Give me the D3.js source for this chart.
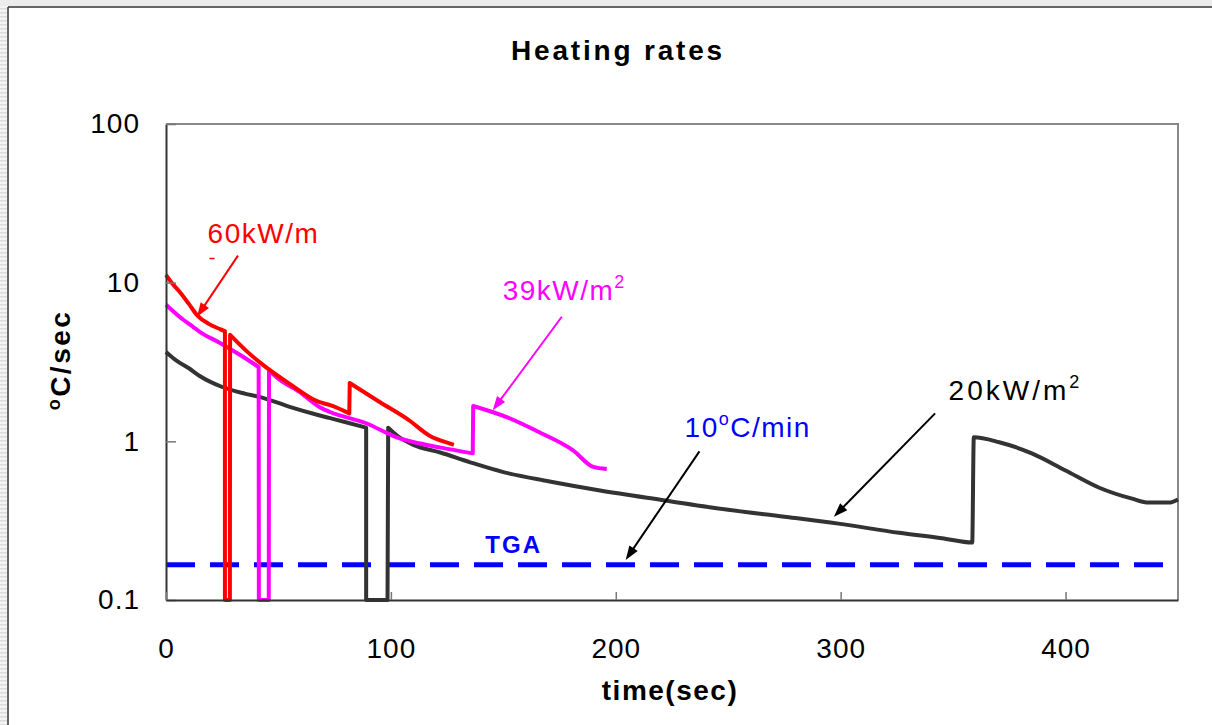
<!DOCTYPE html>
<html>
<head>
<meta charset="utf-8">
<title>Heating rates</title>
<style>
body { margin: 0; background: #fff; }
text { font-family: Arial, "Liberation Sans", sans-serif; }
.tick text { font-size: 28px; fill: #000; }
</style>
</head>
<body>
<script src="https://cdn.jsdelivr.net/npm/d3@7"></script>
<script>

// heating rate (degC/sec) against time (sec)
var series20 = [[0,3.66],[5,3.2],[10,2.9],[15,2.58],[25,2.2],[35,2.0],[42,1.9],[55,1.65],[68,1.46],[73,1.4],[80,1.32],
  [89,1.22],[89,0.1],[98.5,0.1],[98.8,1.22],[103,1.08],[110,0.95],[122,0.85],[135,0.74],[150,0.64],[170,0.56],
  [193,0.49],[222,0.424],[250,0.37],[275,0.335],[299,0.303],[326,0.265],[345,0.245],[358.5,0.23],[359.2,1.06],
  [370.5,0.987],[385,0.84],[400,0.655],[415,0.51],[429.6,0.435],[437,0.411],[446,0.411],[450,0.43]];

var series39 = [[0,7.26],[6,6.1],[12,5.27],[15,4.9],[24,4.17],[33,3.5],[41.2,2.94],[41.3,0.1],[45.7,0.1],[45.8,2.81],
  [49,2.54],[59.5,2.04],[68.4,1.64],[73,1.53],[89,1.3],[102.6,1.06],[110,0.99],[121.7,0.916],[136.4,0.84],
  [136.6,1.67],[151.5,1.42],[166,1.14],[181,0.877],[190,0.69],[196,0.67]];

var series60 = [[0,11.2],[3,9.8],[6.2,8.7],[10,7.4],[14,6.2],[19,5.5],[24,5.1],[26.2,4.95],[26.2,0.1],[28.4,0.1],
  [28.5,4.69],[35,3.8],[42,3.12],[55,2.3],[68,1.77],[73,1.69],[81.5,1.5],[81.7,2.33],[95,1.77],[108,1.36],
  [117,1.09],[126,0.97],[128,0.95]];

var tgaRate = 10 / 60;   // 10 degC/min

var xTicks = [0, 100, 200, 300, 400];
var yTicks = [0.1, 1, 10, 100];

var width = 1212, height = 725;

var svg = d3.select("body").append("svg")
    .attr("width", width)
    .attr("height", height);

// outer frame, hatched strip on the left like the source scan
var hatch = svg.append("defs").append("pattern")
    .attr("id", "hatch").attr("patternUnits", "userSpaceOnUse")
    .attr("width", 8).attr("height", 4);
hatch.append("rect").attr("width", 8).attr("height", 4).attr("fill", "#f4f4f4");
hatch.append("rect").attr("width", 8).attr("height", 1.5).attr("fill", "#dcdcdc");
svg.append("rect").attr("x", 0).attr("y", 0).attr("width", 7).attr("height", height).attr("fill", "url(#hatch)");
svg.append("rect").attr("x", 0).attr("y", 0).attr("width", width).attr("height", 6).attr("fill", "#ececec");
svg.append("line").attr("x1", 8).attr("x2", width).attr("y1", 7).attr("y2", 7)
    .attr("stroke", "#333").attr("stroke-width", 1.5);
svg.append("line").attr("x1", 8).attr("x2", 8).attr("y1", 7).attr("y2", height)
    .attr("stroke", "#333").attr("stroke-width", 1.5);

var x = d3.scaleLinear().domain([0, 450]).range([166, 1178]);
var y = d3.scaleLog().domain([0.1, 100]).range([600, 124]);

// plot box (top/right grey)
svg.append("path")
    .attr("d", "M" + x(0) + "," + y(100) + "H" + x(450) + "V" + y(0.1))
    .attr("fill", "none").attr("stroke", "#888").attr("stroke-width", 2);

var line = d3.line()
    .x(function(d) { return x(d[0]); })
    .y(function(d) { return y(d[1]); })
    .curve(d3.curveMonotoneX);

// smooth each continuous run, straight vertical steps between runs
function seriesPath(data) {
  var runs = [[data[0]]];
  for (var i = 1; i < data.length; i++) {
    if (data[i][0] - data[i - 1][0] < 0.5) runs.push([data[i]]);
    else runs[runs.length - 1].push(data[i]);
  }
  return runs.map(function(r, i) {
    var p = r.length > 1 ? line(r) : "M" + x(r[0][0]) + "," + y(r[0][1]);
    return i === 0 ? p : "L" + p.slice(1);
  }).join("");
}

// TGA 10 C/min
svg.append("line")
    .attr("x1", x(0)).attr("x2", x(450))
    .attr("y1", y(tgaRate)).attr("y2", y(tgaRate))
    .attr("stroke", "#0000ff").attr("stroke-width", 5)
    .attr("stroke-dasharray", "29,15");

var lines = [
  {data: series20, color: "#333333"},
  {data: series39, color: "#ff00ff"},
  {data: series60, color: "#ff0000"}
];

svg.selectAll("path.series")
    .data(lines)
    .enter().append("path")
    .attr("class", "series")
    .attr("d", function(d) { return seriesPath(d.data); })
    .attr("fill", "none")
    .attr("stroke", function(d) { return d.color; })
    .attr("stroke-width", 4)
    .attr("stroke-linejoin", "round");

// axes
var yAxis = d3.axisLeft(y)
    .tickValues(yTicks)
    .tickFormat(function(d) { return d < 1 ? "0.1" : d3.format("d")(d); })
    .tickSizeInner(-10).tickSizeOuter(0).tickPadding(26);
var gy = svg.append("g").attr("transform", "translate(" + x(0) + ",0)").call(yAxis);

var xAxis = d3.axisBottom(x)
    .tickValues(xTicks)
    .tickSizeInner(-8).tickSizeOuter(0).tickPadding(38);
var gx = svg.append("g").attr("transform", "translate(0," + y(0.1) + ")").call(xAxis);

[gx, gy].forEach(function(g) {
  g.select(".domain").attr("stroke", "#333").attr("stroke-width", 2);
  g.selectAll(".tick line").attr("stroke", "#777").attr("stroke-width", 1.5);
  g.selectAll(".tick text").attr("letter-spacing", "1px");
});

// titles
svg.append("text")
    .attr("x", 618).attr("y", 60)
    .attr("text-anchor", "middle")
    .style("font-size", "28px").style("font-weight", "bold")
    .attr("letter-spacing", "2.8px")
    .text("Heating rates");

svg.append("text")
    .attr("x", 670).attr("y", 700)
    .attr("text-anchor", "middle")
    .style("font-size", "28px").style("font-weight", "bold")
    .attr("letter-spacing", "1.5px")
    .text("time(sec)");

var ylab = svg.append("text")
    .attr("transform", "translate(70,360) rotate(-90)")
    .attr("text-anchor", "middle")
    .style("font-size", "28px").style("font-weight", "bold")
    .attr("letter-spacing", "2.5px");
ylab.append("tspan").attr("dy", "-10").style("font-size", "18px").text("o");
ylab.append("tspan").attr("dy", "10").text("C/sec");

// annotation arrows (data coordinates)
var arrows = [
  {from: [32, 14.8], to: [13.8, 6.1], color: "#ff0000"},
  {from: [176, 6.1], to: [145.3, 1.57], color: "#ff00ff"},
  {from: [237.2, 0.865], to: [204.4, 0.179], color: "#000"},
  {from: [342, 1.5], to: [297, 0.335], color: "#000"}
];

arrows.forEach(function(a) {
  var x1 = x(a.from[0]), y1 = y(a.from[1]), x2 = x(a.to[0]), y2 = y(a.to[1]);
  var ang = Math.atan2(y2 - y1, x2 - x1);
  svg.append("line")
      .attr("x1", x1).attr("y1", y1)
      .attr("x2", x2 - 10 * Math.cos(ang)).attr("y2", y2 - 10 * Math.sin(ang))
      .attr("stroke", a.color).attr("stroke-width", 2);
  var p1 = [x2 - 14 * Math.cos(ang) + 5 * Math.sin(ang), y2 - 14 * Math.sin(ang) - 5 * Math.cos(ang)];
  var p2 = [x2 - 14 * Math.cos(ang) - 5 * Math.sin(ang), y2 - 14 * Math.sin(ang) + 5 * Math.cos(ang)];
  svg.append("path")
      .attr("d", "M" + x2 + "," + y2 + "L" + p1 + "L" + p2 + "Z")
      .attr("fill", a.color);
});

function label(t, v, color, parts, spacing) {
  var txt = svg.append("text")
      .attr("x", x(t)).attr("y", y(v))
      .attr("fill", color)
      .style("font-size", "28px")
      .attr("letter-spacing", (spacing || 1.5) + "px");
  parts.forEach(function(p) {
    var ts = txt.append("tspan").text(p.s);
    if (p.sup) ts.attr("dy", -12).style("font-size", "18px");
    if (p.down) ts.attr("dy", 12);
  });
  return txt;
}

label(18.5, 17.7, "#ff0000", [{s: "60kW/m"}]);
svg.append("line")
    .attr("x1", x(19.3)).attr("x2", x(21.6))
    .attr("y1", y(14.2)).attr("y2", y(14.2))
    .attr("stroke", "#ff0000").attr("stroke-width", 1.5);
label(149.7, 7.8, "#ff00ff", [{s: "39kW/m"}, {s: "2", sup: true}]);
label(230.6, 1.06, "#0000ff", [{s: "10"}, {s: "o", sup: true}, {s: "C/min", down: true}]);
label(348, 1.82, "#000", [{s: "20kW/m"}, {s: "2", sup: true}], 3);
label(142, 0.198, "#0000ff", [{s: "TGA"}], 2)
    .style("font-size", "24px").style("font-weight", "bold");

</script>
</body>
</html>
